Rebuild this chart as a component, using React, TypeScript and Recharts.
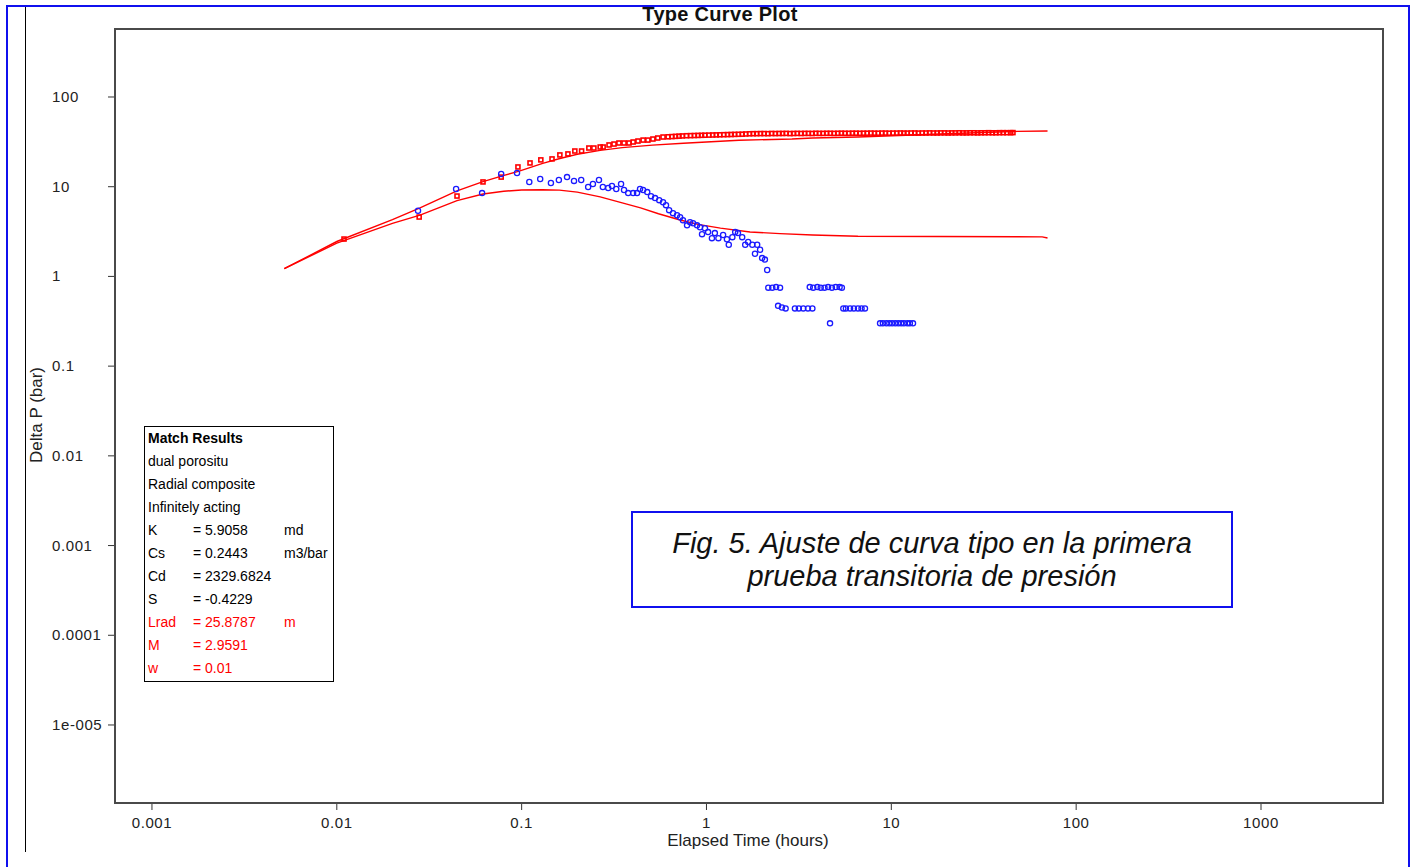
import { ComposedChart, Line, Scatter, XAxis, YAxis } from 'recharts';

// model type curve: pressure (upper) and derivative (lower)
const modelPressure = [
  { t: 0.0052, p: 1.22 }, { t: 0.01, p: 2.45 }, { t: 0.02, p: 4.3 }, { t: 0.0282, p: 5.8 },
  { t: 0.0447, p: 9.0 }, { t: 0.0618, p: 11.4 }, { t: 0.0794, p: 13.3 }, { t: 0.098, p: 15.0 },
  { t: 0.13, p: 18.2 }, { t: 0.161, p: 20.6 }, { t: 0.2, p: 23.0 }, { t: 0.266, p: 25.4 },
  { t: 0.35, p: 27.3 }, { t: 0.51, p: 29.1 }, { t: 0.75, p: 30.5 }, { t: 1.0, p: 31.5 },
  { t: 1.5, p: 33.0 }, { t: 2.9, p: 34.0 }, { t: 3.75, p: 34.9 }, { t: 6.6, p: 35.8 },
  { t: 20, p: 39.0 }, { t: 45, p: 41.3 }, { t: 70, p: 41.8 },
];

const modelDerivative = [
  { t: 0.0052, p: 1.22 }, { t: 0.01, p: 2.35 }, { t: 0.02, p: 3.9 }, { t: 0.0282, p: 4.83 },
  { t: 0.0447, p: 7.0 }, { t: 0.0618, p: 8.3 }, { t: 0.08, p: 8.9 }, { t: 0.1, p: 9.2 },
  { t: 0.13, p: 9.25 }, { t: 0.16, p: 9.15 }, { t: 0.2, p: 8.7 }, { t: 0.266, p: 7.7 },
  { t: 0.35, p: 6.6 }, { t: 0.44, p: 5.8 }, { t: 0.55, p: 5.0 }, { t: 0.72, p: 4.25 },
  { t: 0.9, p: 3.8 }, { t: 1.19, p: 3.45 }, { t: 1.72, p: 3.13 }, { t: 2.5, p: 3.0 },
  { t: 3.75, p: 2.9 }, { t: 6.6, p: 2.8 }, { t: 65.5, p: 2.76 }, { t: 70, p: 2.68 },
];

// measured delta P (squares)
const pressureData = [
  { t: 0.01094, p: 2.61 }, { t: 0.0279, p: 4.59 }, { t: 0.0447, p: 7.87 }, { t: 0.0618, p: 11.3 },
  { t: 0.0775, p: 12.8 }, { t: 0.0955, p: 16.6 }, { t: 0.111, p: 18.4 }, { t: 0.127, p: 19.9 },
  { t: 0.146, p: 20.4 }, { t: 0.161, p: 22.6 }, { t: 0.178, p: 23.2 }, { t: 0.194, p: 25.0 },
  { t: 0.211, p: 25.0 }, { t: 0.231, p: 27.0 }, { t: 0.246, p: 27.0 }, { t: 0.266, p: 27.7 },
  { t: 0.276, p: 27.7 }, { t: 0.297, p: 29.2 }, { t: 0.316, p: 29.9 }, { t: 0.336, p: 30.7 },
  { t: 0.358, p: 30.7 }, { t: 0.381, p: 30.7 }, { t: 0.401, p: 31.5 }, { t: 0.426, p: 32.3 },
  { t: 0.454, p: 33.1 }, { t: 0.482, p: 33.1 }, { t: 0.513, p: 34.0 }, { t: 0.545, p: 34.9 },
  { t: 0.582, p: 35.8 }, { t: 0.62, p: 36.0 }, { t: 0.65, p: 36.2 }, { t: 0.68, p: 36.4 },
  { t: 0.71, p: 36.6 }, { t: 0.74, p: 36.8 }, { t: 0.78, p: 37.0 }, { t: 0.82, p: 37.1 },
  { t: 0.86, p: 37.2 }, { t: 0.9, p: 37.3 }, { t: 0.94, p: 37.4 }, { t: 0.98, p: 37.5 },
  { t: 1.03, p: 37.6 }, { t: 1.08, p: 37.7 }, { t: 1.13, p: 37.8 }, { t: 1.18, p: 37.9 },
  { t: 1.24, p: 38.0 }, { t: 1.3, p: 38.1 }, { t: 1.36, p: 38.2 }, { t: 1.42, p: 38.3 },
  { t: 1.49, p: 38.4 }, { t: 1.56, p: 38.5 }, { t: 1.63, p: 38.7 }, { t: 1.71, p: 38.9 },
  { t: 1.79, p: 39.0 }, { t: 1.87, p: 39.0 }, { t: 1.96, p: 39.1 }, { t: 2.05, p: 39.1 },
  { t: 2.15, p: 39.0 }, { t: 2.25, p: 39.2 }, { t: 2.36, p: 39.1 }, { t: 2.47, p: 39.2 },
  { t: 2.58, p: 39.2 }, { t: 2.7, p: 39.3 }, { t: 2.83, p: 39.1 }, { t: 2.96, p: 39.2 },
  { t: 3.1, p: 39.3 }, { t: 3.25, p: 39.2 }, { t: 3.4, p: 39.3 }, { t: 3.56, p: 39.3 },
  { t: 3.73, p: 39.2 }, { t: 3.9, p: 39.4 }, { t: 4.08, p: 39.3 }, { t: 4.27, p: 39.3 },
  { t: 4.47, p: 39.4 }, { t: 4.68, p: 39.4 }, { t: 4.9, p: 39.3 }, { t: 5.13, p: 39.4 },
  { t: 5.37, p: 39.5 }, { t: 5.62, p: 39.4 }, { t: 5.88, p: 39.4 }, { t: 6.16, p: 39.5 },
  { t: 6.45, p: 39.5 }, { t: 6.75, p: 39.4 }, { t: 7.07, p: 39.5 }, { t: 7.4, p: 39.5 },
  { t: 7.75, p: 39.6 }, { t: 8.11, p: 39.5 }, { t: 8.49, p: 39.5 }, { t: 8.89, p: 39.6 },
  { t: 9.3, p: 39.6 }, { t: 9.74, p: 39.5 }, { t: 10.2, p: 39.6 }, { t: 10.7, p: 39.6 },
  { t: 11.2, p: 39.7 }, { t: 11.7, p: 39.6 }, { t: 12.2, p: 39.6 }, { t: 12.8, p: 39.7 },
  { t: 13.4, p: 39.7 }, { t: 14.0, p: 39.6 }, { t: 14.7, p: 39.7 }, { t: 15.4, p: 39.7 },
  { t: 16.1, p: 39.8 }, { t: 16.9, p: 39.7 }, { t: 17.7, p: 39.7 }, { t: 18.5, p: 39.8 },
  { t: 19.4, p: 39.8 }, { t: 20.3, p: 39.7 }, { t: 21.2, p: 39.8 }, { t: 22.2, p: 39.8 },
  { t: 23.3, p: 39.9 }, { t: 24.4, p: 39.8 }, { t: 25.5, p: 39.8 }, { t: 26.7, p: 39.9 },
  { t: 28.0, p: 39.9 }, { t: 29.3, p: 39.8 }, { t: 30.6, p: 39.9 }, { t: 32.1, p: 39.9 },
  { t: 33.6, p: 40.0 }, { t: 35.2, p: 39.9 }, { t: 36.8, p: 39.9 }, { t: 38.5, p: 40.0 },
  { t: 40.3, p: 40.0 }, { t: 42.2, p: 40.0 }, { t: 44.2, p: 40.0 }, { t: 45.5, p: 40.1 },
];

// measured derivative (circles)
const derivativeData = [
  { t: 0.0275, p: 5.4 }, { t: 0.0442, p: 9.42 }, { t: 0.0611, p: 8.49 }, { t: 0.0775, p: 13.9 },
  { t: 0.0944, p: 14.2 }, { t: 0.11, p: 11.3 }, { t: 0.126, p: 12.2 }, { t: 0.144, p: 11.0 },
  { t: 0.159, p: 11.9 }, { t: 0.176, p: 12.8 }, { t: 0.192, p: 11.6 }, { t: 0.21, p: 11.9 },
  { t: 0.229, p: 9.93 }, { t: 0.243, p: 10.7 }, { t: 0.262, p: 11.9 }, { t: 0.275, p: 9.93 },
  { t: 0.294, p: 9.67 }, { t: 0.308, p: 10.2 }, { t: 0.325, p: 9.42 }, { t: 0.345, p: 10.7 },
  { t: 0.358, p: 9.18 }, { t: 0.377, p: 8.49 }, { t: 0.401, p: 8.49 }, { t: 0.421, p: 8.49 },
  { t: 0.437, p: 9.42 }, { t: 0.454, p: 9.18 }, { t: 0.478, p: 8.71 }, { t: 0.501, p: 7.85 },
  { t: 0.527, p: 7.46 }, { t: 0.555, p: 7.08 }, { t: 0.582, p: 6.72 }, { t: 0.604, p: 6.23 },
  { t: 0.628, p: 5.48 }, { t: 0.659, p: 5.07 }, { t: 0.693, p: 4.81 }, { t: 0.72, p: 4.57 },
  { t: 0.746, p: 4.22 }, { t: 0.785, p: 3.71 }, { t: 0.815, p: 4.01 }, { t: 0.846, p: 3.91 },
  { t: 0.889, p: 3.71 }, { t: 0.923, p: 3.53 }, { t: 0.946, p: 2.96 }, { t: 0.981, p: 3.44 },
  { t: 1.02, p: 3.12 }, { t: 1.07, p: 2.67 }, { t: 1.11, p: 3.04 }, { t: 1.16, p: 2.67 },
  { t: 1.23, p: 2.89 }, { t: 1.29, p: 2.6 }, { t: 1.32, p: 2.25 }, { t: 1.38, p: 2.74 },
  { t: 1.43, p: 3.12 }, { t: 1.48, p: 3.04 }, { t: 1.56, p: 2.74 }, { t: 1.62, p: 2.25 },
  { t: 1.68, p: 2.42 }, { t: 1.77, p: 2.25 }, { t: 1.83, p: 1.79 }, { t: 1.88, p: 2.25 },
  { t: 1.95, p: 1.98 }, { t: 2.0, p: 1.6 }, { t: 2.07, p: 1.54 }, { t: 2.13, p: 1.18 },
  { t: 2.16, p: 0.75 }, { t: 2.27, p: 0.75 }, { t: 2.38, p: 0.76 }, { t: 2.5, p: 0.75 },
  { t: 2.44, p: 0.47 }, { t: 2.56, p: 0.45 }, { t: 2.68, p: 0.44 },
  { t: 3.01, p: 0.44 }, { t: 3.16, p: 0.44 }, { t: 3.34, p: 0.44 }, { t: 3.54, p: 0.44 }, { t: 3.74, p: 0.44 },
  { t: 3.62, p: 0.76 }, { t: 3.78, p: 0.75 }, { t: 3.98, p: 0.76 }, { t: 4.15, p: 0.75 },
  { t: 4.35, p: 0.75 }, { t: 4.55, p: 0.76 }, { t: 4.77, p: 0.75 }, { t: 5.0, p: 0.76 },
  { t: 5.25, p: 0.76 }, { t: 5.4, p: 0.75 }, { t: 4.66, p: 0.3 },
  { t: 5.5, p: 0.44 }, { t: 5.68, p: 0.44 }, { t: 5.98, p: 0.44 }, { t: 6.27, p: 0.44 },
  { t: 6.6, p: 0.44 }, { t: 6.9, p: 0.44 }, { t: 7.2, p: 0.44 },
  { t: 8.69, p: 0.3 }, { t: 9.0, p: 0.3 }, { t: 9.4, p: 0.3 }, { t: 9.75, p: 0.3 },
  { t: 10.1, p: 0.3 }, { t: 10.5, p: 0.3 }, { t: 10.9, p: 0.3 }, { t: 11.3, p: 0.3 },
  { t: 11.7, p: 0.3 }, { t: 12.2, p: 0.3 }, { t: 12.6, p: 0.3 }, { t: 13.1, p: 0.3 },
];

const xTicks = [0.001, 0.01, 0.1, 1, 10, 100, 1000];
const xTickLabels = ['0.001', '0.01', '0.1', '1', '10', '100', '1000'];
const yTicks = [100, 10, 1, 0.1, 0.01, 0.001, 0.0001, 0.00001];
const yTickLabels = ['100', '10', '1', '0.1', '0.01', '0.001', '0.0001', '1e-005'];

const matchRows = [
  { label: 'K', value: '= 5.9058', unit: 'md', color: '#000' },
  { label: 'Cs', value: '= 0.2443', unit: 'm3/bar', color: '#000' },
  { label: 'Cd', value: '= 2329.6824', unit: '', color: '#000' },
  { label: 'S', value: '= -0.4229', unit: '', color: '#000' },
  { label: 'Lrad', value: '= 25.8787', unit: 'm', color: '#ff0000' },
  { label: 'M', value: '= 2.9591', unit: '', color: '#ff0000' },
  { label: 'w', value: '= 0.01', unit: '', color: '#ff0000' },
];
const matchModel = ['dual porositu', 'Radial composite', 'Infinitely acting'];

const FONT = '"Liberation Sans", Arial, sans-serif';

const labelFor = (ticks: number[], labels: string[], v: number) => {
  const i = ticks.findIndex((t) => Math.abs(Math.log10(t) - Math.log10(v)) < 1e-6);
  return i >= 0 ? labels[i] : String(v);
};

const XTick = (props: any) => {
  const { x, payload } = props;
  return (
    <text x={x} y={828} textAnchor="middle" fontSize={15} fontFamily={FONT} fill="#222" letterSpacing={0.6}>
      {labelFor(xTicks, xTickLabels, payload.value)}
    </text>
  );
};

const YTick = (props: any) => {
  const { y, payload } = props;
  return (
    <text x={52} y={y + 5} textAnchor="start" fontSize={15} fontFamily={FONT} fill="#222" letterSpacing={0.6}>
      {labelFor(yTicks, yTickLabels, payload.value)}
    </text>
  );
};

const circleShape = (props: any) => (
  <circle cx={props.cx} cy={props.cy} r={2.6} fill="none" stroke="#1a1aff" strokeWidth={1.3} />
);

const squareShape = (props: any) => (
  <rect x={props.cx - 2} y={props.cy - 2} width={4} height={4} fill="none" stroke="#ff0000" strokeWidth={1.6} />
);

export default function App() {
  return (
    <div style={{ position: 'absolute', left: 0, top: 0, width: 1414, height: 867, background: '#fff', fontFamily: FONT, overflow: 'hidden' }}>
      <ComposedChart width={1414} height={867} margin={{ top: 29, right: 31, bottom: 0, left: 0 }}>
        <XAxis
          type="number"
          dataKey="t"
          scale="log"
          domain={[0.000631, 4571]}
          allowDataOverflow
          ticks={xTicks}
          tick={<XTick />}
          tickSize={7}
          tickLine={{ stroke: '#333' }}
          axisLine={false}
          height={64}
        />
        <YAxis
          type="number"
          dataKey="p"
          scale="log"
          domain={[0.00000135, 572.7]}
          allowDataOverflow
          ticks={yTicks}
          tick={<YTick />}
          tickSize={7}
          tickLine={{ stroke: '#333' }}
          axisLine={false}
          width={115}
        />
        <Line data={modelPressure} dataKey="p" type="linear" stroke="#ff0000" strokeWidth={1.4} dot={false} isAnimationActive={false} />
        <Line data={modelDerivative} dataKey="p" type="linear" stroke="#ff0000" strokeWidth={1.4} dot={false} isAnimationActive={false} />
        <Scatter data={pressureData} dataKey="p" shape={squareShape} isAnimationActive={false} />
        <Scatter data={derivativeData} dataKey="p" shape={circleShape} isAnimationActive={false} />
      </ComposedChart>

      {/* plot frame */}
      <div style={{ position: 'absolute', left: 114, top: 28, width: 1270, height: 776, border: '2px solid #4a4a4a', boxSizing: 'border-box', pointerEvents: 'none' }} />

      {/* outer page frame */}
      <div style={{ position: 'absolute', left: 6, top: 5, width: 1404, height: 900, borderTop: '2px solid #1010ee', borderLeft: '2px solid #1010ee', borderRight: '2px solid #1010ee', boxSizing: 'border-box' }} />
      <div style={{ position: 'absolute', left: 25, top: 7, width: 1, height: 845, background: '#000' }} />

      <div style={{ position: 'absolute', left: 0, width: 1440, top: 3, textAlign: 'center', fontSize: 20, fontWeight: 'bold', letterSpacing: 0.3, color: '#111' }}>
        Type Curve Plot
      </div>
      <div style={{ position: 'absolute', left: 548, width: 400, top: 831, textAlign: 'center', fontSize: 17, color: '#222' }}>
        Elapsed Time (hours)
      </div>
      <div style={{ position: 'absolute', left: 37, top: 415, transform: 'translate(-50%, -50%) rotate(-90deg)', whiteSpace: 'nowrap', fontSize: 17, color: '#222' }}>
        Delta P (bar)
      </div>

      {/* match results box */}
      <div style={{ position: 'absolute', left: 144, top: 426, width: 190, height: 256, border: '1px solid #000', boxSizing: 'border-box', background: '#fff', fontSize: 14, color: '#000' }}>
        <div style={{ position: 'absolute', left: 3, top: 2, fontWeight: 'bold', lineHeight: '19px' }}>Match Results</div>
        {matchModel.map((m, i) => (
          <div key={m} style={{ position: 'absolute', left: 3, top: 25 + i * 23, lineHeight: '19px' }}>{m}</div>
        ))}
        {matchRows.map((r, i) => (
          <div key={r.label} style={{ position: 'absolute', left: 0, top: 94 + i * 23, width: 190, lineHeight: '19px', color: r.color }}>
            <span style={{ position: 'absolute', left: 3 }}>{r.label}</span>
            <span style={{ position: 'absolute', left: 48 }}>{r.value}</span>
            <span style={{ position: 'absolute', left: 139 }}>{r.unit}</span>
          </div>
        ))}
      </div>

      {/* figure caption */}
      <div style={{ position: 'absolute', left: 631, top: 511, width: 602, height: 97, border: '2px solid #1010ee', boxSizing: 'border-box', background: '#fff', display: 'flex', flexDirection: 'column', justifyContent: 'center', alignItems: 'center', fontStyle: 'italic', fontSize: 29, lineHeight: '33px', color: '#111' }}>
        <div>Fig. 5. Ajuste de curva tipo en la primera</div>
        <div>prueba transitoria de presión</div>
      </div>
    </div>
  );
}
